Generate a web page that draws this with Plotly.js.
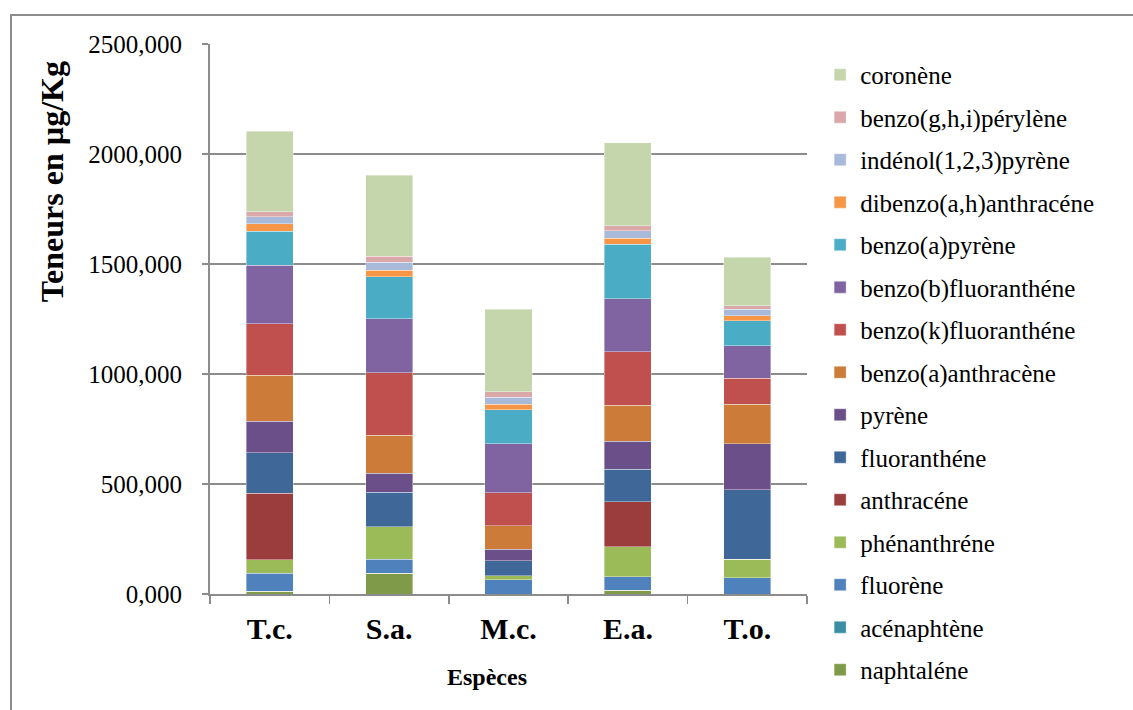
<!DOCTYPE html>
<html>
<head>
<meta charset="utf-8">
<script src="https://cdn.plot.ly/plotly-3.0.1.min.js"></script>
<style>
  html, body { margin: 0; padding: 0; background: #ffffff; overflow: hidden; }
  #chart { width: 1133px; height: 710px; }
  #frame { position: absolute; left: 10px; top: 14px; width: 1140px; height: 720px;
           border: 2px solid #8c8c8c; pointer-events: none; }
</style>
</head>
<body>
<div id="chart"></div>
<div id="frame"></div>
<script>
const categories = ["T.c.", "S.a.", "M.c.", "E.a.", "T.o."];

const naphtalene        = [12, 94, 0, 18, 0];
const acenaphtene       = [0, 0, 0, 0, 0];
const fluorene          = [83, 65, 64, 60, 74];
const phenanthrene      = [61, 147, 18, 136, 84];
const anthracene        = [303, 0, 0, 205, 0];
const fluoranthene      = [182, 156, 70, 149, 315];
const pyrene            = [145, 86, 52, 127, 210];
const benzoAanthracene  = [208, 174, 106, 164, 179];
const benzoKfluoranthene= [235, 283, 151, 242, 118];
const benzoBfluoranthene= [265, 247, 221, 240, 148];
const benzoApyrene      = [155, 189, 155, 249, 114];
const dibenzoAHanthracene = [35, 30, 26, 27, 23];
const indenolPyrene     = [30, 38, 32, 35, 30];
const benzoGHIperylene  = [23, 26, 25, 21, 15];
const coronene          = [367, 368, 375, 379, 220];

const seriesNames = [
  "naphtaléne", "acénaphtène", "fluorène", "phénanthréne", "anthracéne",
  "fluoranthéne", "pyrène", "benzo(a)anthracène", "benzo(k)fluoranthéne",
  "benzo(b)fluoranthéne", "benzo(a)pyrène", "dibenzo(a,h)anthracéne",
  "indénol(1,2,3)pyrène", "benzo(g,h,i)pérylène", "coronène"
];
const seriesValues = [
  naphtalene, acenaphtene, fluorene, phenanthrene, anthracene,
  fluoranthene, pyrene, benzoAanthracene, benzoKfluoranthene,
  benzoBfluoranthene, benzoApyrene, dibenzoAHanthracene,
  indenolPyrene, benzoGHIperylene, coronene
];
const seriesColors = [
  "#7F9A48", "#3A8DA3", "#4F81BD", "#9BBB59", "#9C3D3D",
  "#3F6898", "#6A4F88", "#CC7B38", "#C0504D",
  "#8064A2", "#4BACC6", "#F79646",
  "#A8B9D9", "#DBA8A9", "#C6D6AC"
];

const serif = "Liberation Serif";

const traces = seriesNames.map((name, i) => ({
  type: "bar",
  name: name,
  x: categories,
  y: seriesValues[i],
  legendgroup: name,
  legendrank: seriesNames.length - i,
  marker: { color: seriesColors[i], line: { color: "rgba(255,255,255,0.55)", width: 0.7 } },
  hoverinfo: "none"
}));

const layout = {
  width: 1133,
  height: 710,
  barmode: "stack",
  bargap: 0.605,
  separators: ", ",
  paper_bgcolor: "#ffffff",
  plot_bgcolor: "#ffffff",
  margin: { l: 210, r: 326, t: 44, b: 116 },
  font: { family: serif, color: "#000000" },
  showlegend: true,
  legend: {
    x: 1.022, xanchor: "left",
    y: 0.9855, yanchor: "top",
    traceorder: "grouped",
    tracegroupgap: 7,
    maxheight: 700,
    font: { family: serif, size: 25, color: "#000000" },
    bgcolor: "rgba(0,0,0,0)"
  },
  xaxis: {
    type: "category",
    showline: true,
    linecolor: "#8c8c8c",
    linewidth: 2,
    ticks: "outside",
    tickson: "boundaries",
    ticklen: 8,
    tickwidth: 1.5,
    tickcolor: "#8c8c8c",
    showgrid: false,
    ticklabelstandoff: 7,
    tickfont: { family: serif, size: 30, color: "#000000", weight: "bold" }
  },
  yaxis: {
    range: [0, 2500],
    dtick: 500,
    tick0: 0,
    tickformat: ".3f",
    showline: true,
    linecolor: "#8c8c8c",
    linewidth: 2,
    ticks: "outside",
    ticklen: 6,
    tickwidth: 1.5,
    tickcolor: "#8c8c8c",
    showgrid: true,
    gridcolor: "#8c8c8c",
    gridwidth: 1.5,
    zeroline: false,
    ticklabelstandoff: 15,
    tickfont: { family: serif, size: 25, color: "#000000" }
  },
  annotations: [
    {
      text: "<b>Teneurs en µg/Kg</b>",
      xref: "paper", yref: "paper",
      x: -0.265, y: 0.75,
      xanchor: "center", yanchor: "middle",
      textangle: -90,
      showarrow: false,
      font: { family: serif, size: 32, color: "#000000" }
    },
    {
      text: "<b>Espèces</b>",
      xref: "paper", yref: "paper",
      x: 0.464, y: -0.151,
      xanchor: "center", yanchor: "middle",
      showarrow: false,
      font: { family: serif, size: 24, color: "#000000" }
    }
  ]
};

Plotly.newPlot("chart", traces, layout, { staticPlot: true, displayModeBar: false });
</script>
</body>
</html>
